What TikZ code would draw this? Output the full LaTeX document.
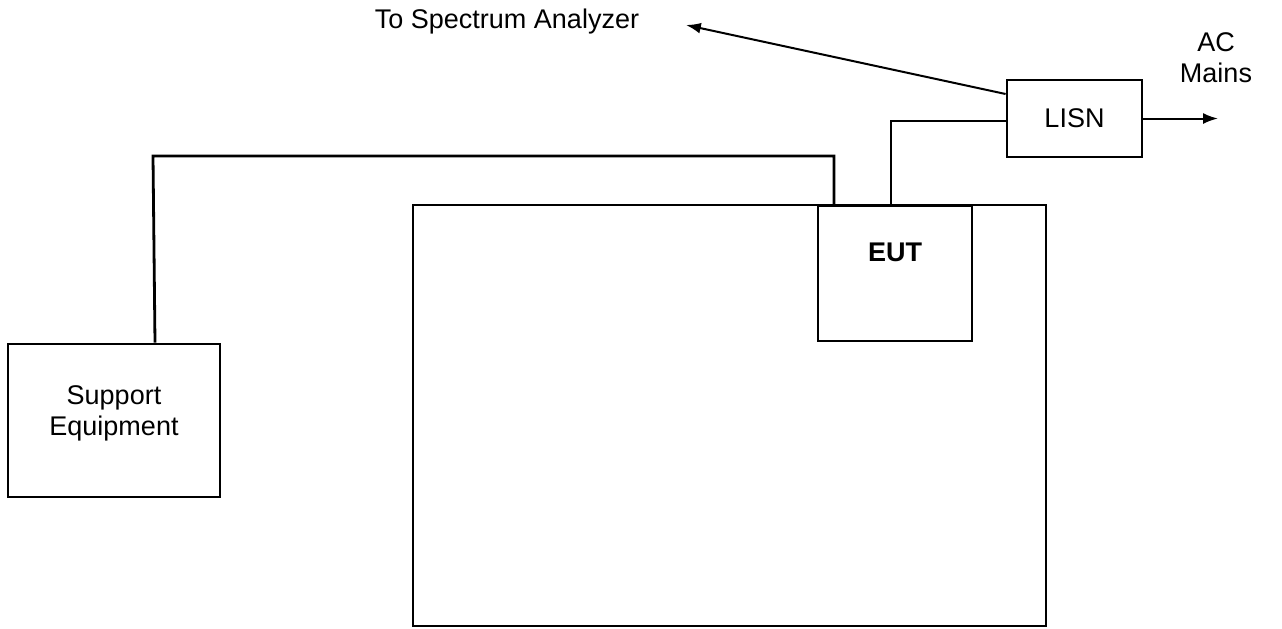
\documentclass[tikz,border=0pt]{standalone}
\usepackage{fontspec}
\setmainfont{Liberation Sans}
\usetikzlibrary{arrows.meta,positioning}

\begin{document}
\begin{tikzpicture}[
    x={(0.5pt,0)}, y={(0,-0.5pt)},
    every node/.style={font=\fontsize{13.5}{15.5}\selectfont},
    box/.style={draw, line width=1.4pt, fill=white, inner sep=0pt},
    cable/.style={line width=1.4pt},
    feed/.style={-{Latex[length=2.6mm, width=1.9mm]}, line width=1pt}
]
\useasboundingbox (0,0) rectangle (1282,628);
% test table and the units on it
\draw[box] (413,205) rectangle (1046,626);
\node[box, minimum width=77pt, minimum height=67.5pt] (eut) at (895,273.5) {};
\node[font=\fontsize{13.5}{15.5}\selectfont\bfseries] (euttext) at (895,252) {EUT};
\node[box, minimum width=106pt, minimum height=76.5pt] (support) at (114,420.5) {};
\node[align=center] (supporttext) at (114,413) {Support\\Equipment};
\node[box, minimum width=67.5pt, minimum height=38.5pt] (lisn) at (1074.5,118.5) {LISN};
% free ends and labels
\coordinate (bend) at (153,156);
\coordinate (specend) at (686,25);
\coordinate (mainsend) at (1218,118.5);
\node (speclabel) at (507,22) {To Spectrum Analyzer};
\node[align=center] (mainslabel) at (1216,58) {AC\\Mains};
% cables
\draw[cable] ([xshift=20.5pt]support.north) -- (bend) -| ([xshift=-30.5pt]eut.north);
\draw[cable] ([xshift=-2pt]eut.north) |- ([yshift=-1.25pt]lisn.west);
\draw[feed] ([yshift=12.25pt]lisn.west) -- (specend);
\draw[feed] (lisn.east) -- (mainsend);
\end{tikzpicture}
\end{document}
